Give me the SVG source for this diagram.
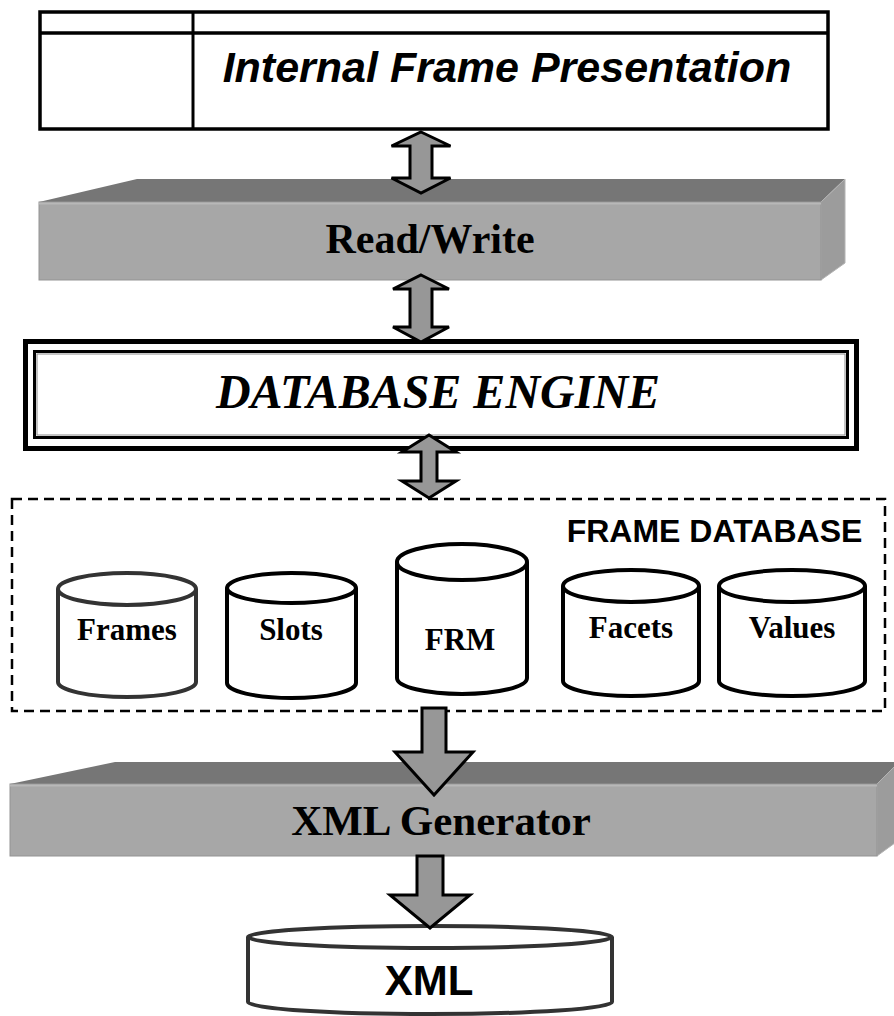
<svg xmlns="http://www.w3.org/2000/svg" width="894" height="1016" viewBox="0 0 894 1016">
  <style>
    .sans { font-family: "Liberation Sans", Arial, sans-serif; font-weight: bold; }
    .serif { font-family: "Liberation Serif", "Times New Roman", serif; }
    .box { fill: #ffffff; stroke: #000000; stroke-width: 3.5; }
    .slab-top { fill: #767676; }
    .slab-front { fill: #a7a7a7; stroke: #939393; stroke-width: 1; }
    .slab-side { fill: #9c9c9c; stroke: #b4b4b4; stroke-width: 1; }
    .cyl { fill: #ffffff; stroke: #000000; stroke-width: 4; }
    .cyl-grey { fill: #ffffff; stroke: #333333; stroke-width: 4; }
    .arrow { fill: #979797; stroke: #000000; stroke-width: 3; stroke-linejoin: miter; }
    .label { font-size: 31px; font-weight: bold; text-anchor: middle; fill: #000000; }
  </style>

  <!-- Internal frame presentation window -->
  <g id="internal-frame-presentation">
    <rect class="box" x="40" y="12" width="788" height="117"/>
    <line x1="40" y1="33" x2="828" y2="33" stroke="#000" stroke-width="3.5"/>
    <line x1="193" y1="12" x2="193" y2="129" stroke="#000" stroke-width="3"/>
    <text class="sans" x="507" y="82" font-size="43" font-style="italic" text-anchor="middle">Internal Frame Presentation</text>
  </g>

  <!-- Read/Write layer -->
  <g id="read-write">
    <polygon class="slab-top" points="39,202 137,179 845,179 821,202"/>
    <polygon class="slab-side" points="821,202 845,179 845,263 821,280"/>
    <rect class="slab-front" x="39" y="202" width="782" height="78"/>
    <line x1="39" y1="203.5" x2="821" y2="203.5" stroke="#b8b8b8" stroke-width="2"/>
    <text class="serif" x="430" y="253" font-size="42" font-weight="bold" text-anchor="middle">Read/Write</text>
  </g>

  <!-- Database engine -->
  <g id="database-engine">
    <rect x="25.5" y="341.5" width="831" height="107" fill="#ffffff" stroke="#000" stroke-width="5"/>
    <rect x="34.5" y="351.5" width="813" height="86" fill="none" stroke="#000" stroke-width="3"/>
    <rect x="37" y="354" width="808" height="81" fill="none" stroke="#8a8a8a" stroke-width="1"/>
    <text class="serif" x="438" y="408" font-size="48" font-style="italic" font-weight="bold" text-anchor="middle">DATABASE ENGINE</text>
  </g>

  <!-- Frame database with its tables -->
  <g id="frame-database">
    <rect x="12" y="499" width="873" height="212" fill="none" stroke="#000" stroke-width="2.5" stroke-dasharray="10,6"/>
    <text class="sans" x="714.5" y="542" font-size="32" text-anchor="middle">FRAME DATABASE</text>
  </g>

  <g id="frames-table">
    <path class="cyl-grey" d="M58,589 L58,682 A69,15 0 0 0 196,682 L196,589"/>
    <ellipse class="cyl-grey" cx="127" cy="589" rx="69" ry="16"/>
    <text class="serif label" x="127" y="640">Frames</text>
  </g>

  <g id="slots-table">
    <path class="cyl" d="M227,588 L227,683 A64.5,15 0 0 0 356,683 L356,588"/>
    <ellipse class="cyl" cx="291.5" cy="588" rx="64.5" ry="15"/>
    <text class="serif label" x="291" y="640">Slots</text>
  </g>

  <g id="frm-table">
    <path class="cyl" d="M397,562 L397,678 A65,16 0 0 0 527,678 L527,562"/>
    <ellipse class="cyl" cx="462" cy="562" rx="65" ry="18"/>
    <text class="serif label" x="460" y="650">FRM</text>
  </g>

  <g id="facets-table">
    <path class="cyl" d="M563,586 L563,681 A68,15 0 0 0 699,681 L699,586"/>
    <ellipse class="cyl" cx="631" cy="586" rx="68" ry="16"/>
    <text class="serif label" x="631" y="638">Facets</text>
  </g>

  <g id="values-table">
    <path class="cyl" d="M719,586 L719,681 A73,15 0 0 0 865,681 L865,586"/>
    <ellipse class="cyl" cx="792" cy="586" rx="73" ry="16"/>
    <text class="serif label" x="792" y="638">Values</text>
  </g>

  <!-- XML generator layer -->
  <g id="xml-generator">
    <polygon class="slab-top" points="10,784 115,762 899,762 877,784"/>
    <polygon class="slab-side" points="877,784 899,762 899,840 877,856"/>
    <rect class="slab-front" x="10" y="784" width="867" height="72"/>
    <line x1="10" y1="785.5" x2="877" y2="785.5" stroke="#b8b8b8" stroke-width="2"/>
    <text class="serif" x="441" y="835" font-size="43" font-weight="bold" text-anchor="middle">XML Generator</text>
  </g>

  <!-- XML document store -->
  <g id="xml-store">
    <path class="cyl-grey" d="M248,937 L248,1002 A182,12 0 0 0 612,1002 L612,937"/>
    <ellipse class="cyl-grey" cx="430" cy="937" rx="182" ry="11"/>
    <text class="sans" x="429" y="995" font-size="42" text-anchor="middle">XML</text>
  </g>

  <!-- Connectors: block arrows between the layers -->
  <g id="connectors">
    <!-- presentation <-> read/write -->
    <polygon class="arrow" points="421,132 450.5,146 432,146 432,178 450.5,178 421,193 391.5,178 410,178 410,146 391.5,146"/>
    <!-- read/write <-> database engine -->
    <polygon class="arrow" points="421,275 449,289 432,289 432,327 449,327 421,342 393,327 410,327 410,289 393,289"/>
    <!-- database engine <-> frame database -->
    <polygon class="arrow" points="429,435 456,452 437,452 437,481 456,481 429,498 402,481 421,481 421,452 402,452"/>
    <!-- frame database -> XML generator -->
    <polygon class="arrow" points="422,708 446,708 446,752 473,752 434,795 395,752 422,752"/>
    <!-- XML generator -> XML store -->
    <polygon class="arrow" points="417,856 443,856 443,895 470,895 430,928 390,895 417,895"/>
  </g>
</svg>
